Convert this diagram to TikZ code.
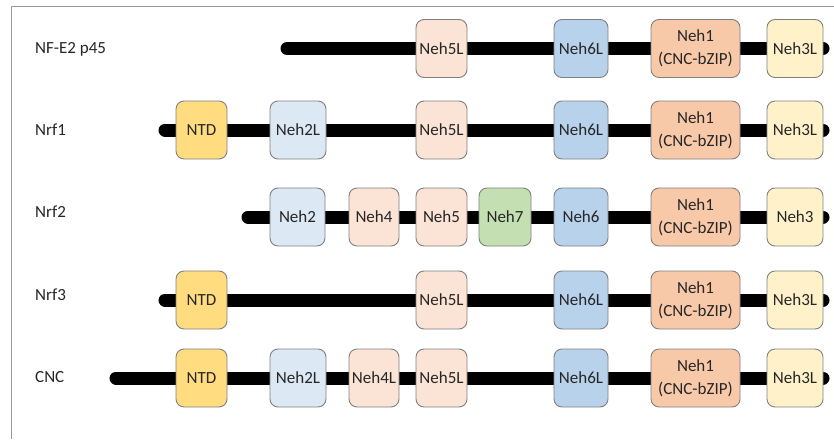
\documentclass[tikz,border=0pt]{standalone}
\usepackage{fontspec}
\setmainfont{Carlito}
\begin{document}
\begin{tikzpicture}[x=1pt,y=-1pt,
  box/.style={draw=boxgray, line width=0.9pt, rounded corners=8pt, minimum height=58pt,
    inner sep=0pt, align=center, text=txt, font=\fontsize{17}{23}\selectfont},
  lbl/.style={anchor=base west, inner sep=0pt, text=txt, font=\fontsize{17}{20}\selectfont},
  bar/.style={line width=13pt, draw=black},
  ntd/.style={box, fill=cNTD},
  nehtwo/.style={box, fill=cTwo},
  nehfive/.style={box, fill=cFive},
  nehsix/.style={box, fill=cSix},
  nehone/.style={box, fill=cOne},
  nehthree/.style={box, fill=cThree},
  nehseven/.style={box, fill=cSeven}]
\definecolor{boxgray}{HTML}{808080}
\definecolor{txt}{HTML}{262626}
\definecolor{cNTD}{HTML}{FFDC80}
\definecolor{cTwo}{HTML}{DCE8F4}
\definecolor{cFive}{HTML}{FBE4D5}
\definecolor{cSix}{HTML}{B8D2EC}
\definecolor{cOne}{HTML}{F8C9A9}
\definecolor{cThree}{HTML}{FFF1CA}
\definecolor{cSeven}{HTML}{C4DFB2}
\useasboundingbox (0,0) rectangle (834,439);
% frame
\draw[draw=boxgray!80, line width=1pt] (11,439) -- (11,6) -- (834,6);
% helper
\newcommand{\dom}[6]{\node[#5, minimum width={#3-#2}] (#1) at ({(#2+#3)/2},#4) {#6};}
% ---------- Row 1: NF-E2 p45
\node[lbl] (l1) at (35,53) {NF-E2 p45};
\coordinate (s1) at (287,48.5);
\coordinate (e1) at (823,48.5);
\draw[bar, line cap=round] (s1) -- (e1);
\dom{a5}{416}{467}{48.5}{nehfive}{Neh5L}
\dom{a6}{554}{608}{48.5}{nehsix}{Neh6L}
\dom{a1}{651}{740}{48.5}{nehone}{Neh1\\(CNC-bZIP)}
\dom{a3}{767}{823}{48.5}{nehthree}{Neh3L}
% ---------- Row 2: Nrf1
\node[lbl] (l2) at (35,135) {Nrf1};
\coordinate (s2) at (165,130);
\coordinate (e2) at (823,130);
\draw[bar, line cap=round] (s2) -- (e2);
\dom{b0}{176}{227}{130}{ntd}{NTD}
\dom{b2}{270}{326}{130}{nehtwo}{Neh2L}
\dom{b5}{416}{467}{130}{nehfive}{Neh5L}
\dom{b6}{554}{608}{130}{nehsix}{Neh6L}
\dom{b1}{651}{740}{130}{nehone}{Neh1\\(CNC-bZIP)}
\dom{b3}{767}{823}{130}{nehthree}{Neh3L}
% ---------- Row 3: Nrf2
\node[lbl] (l3) at (35,217) {Nrf2};
\coordinate (s3) at (248,217);
\coordinate (e3) at (823,217);
\draw[bar, line cap=round] (s3) -- (e3);
\dom{c2}{270}{325}{217}{nehtwo}{Neh2}
\dom{c4}{349}{399}{217}{nehfive}{Neh4}
\dom{c5}{416}{467}{217}{nehfive}{Neh5}
\dom{c7}{479}{531}{217}{nehseven}{Neh7}
\dom{c6}{554}{608}{217}{nehsix}{Neh6}
\dom{c1}{651}{740}{217}{nehone}{Neh1\\(CNC-bZIP)}
\dom{c3}{767}{823}{217}{nehthree}{Neh3}
% ---------- Row 4: Nrf3
\node[lbl] (l4) at (35,300) {Nrf3};
\coordinate (s4) at (165,300);
\coordinate (e4) at (823,300);
\draw[bar, line cap=round] (s4) -- (e4);
\dom{d0}{176}{227}{300}{ntd}{NTD}
\dom{d5}{416}{467}{300}{nehfive}{Neh5L}
\dom{d6}{554}{608}{300}{nehsix}{Neh6L}
\dom{d1}{651}{740}{300}{nehone}{Neh1\\(CNC-bZIP)}
\dom{d3}{767}{823}{300}{nehthree}{Neh3L}
% ---------- Row 5: CNC
\node[lbl] (l5) at (35,382) {CNC};
\coordinate (s5) at (116,378);
\coordinate (e5) at (823,378);
\draw[bar, line cap=round] (s5) -- (e5);
\dom{f0}{176}{227}{378}{ntd}{NTD}
\dom{f2}{270}{326}{378}{nehtwo}{Neh2L}
\dom{f4}{349}{399}{378}{nehfive}{Neh4L}
\dom{f5}{416}{467}{378}{nehfive}{Neh5L}
\dom{f6}{554}{608}{378}{nehsix}{Neh6L}
\dom{f1}{651}{740}{378}{nehone}{Neh1\\(CNC-bZIP)}
\dom{f3}{767}{823}{378}{nehthree}{Neh3L}
\end{tikzpicture}
\end{document}
